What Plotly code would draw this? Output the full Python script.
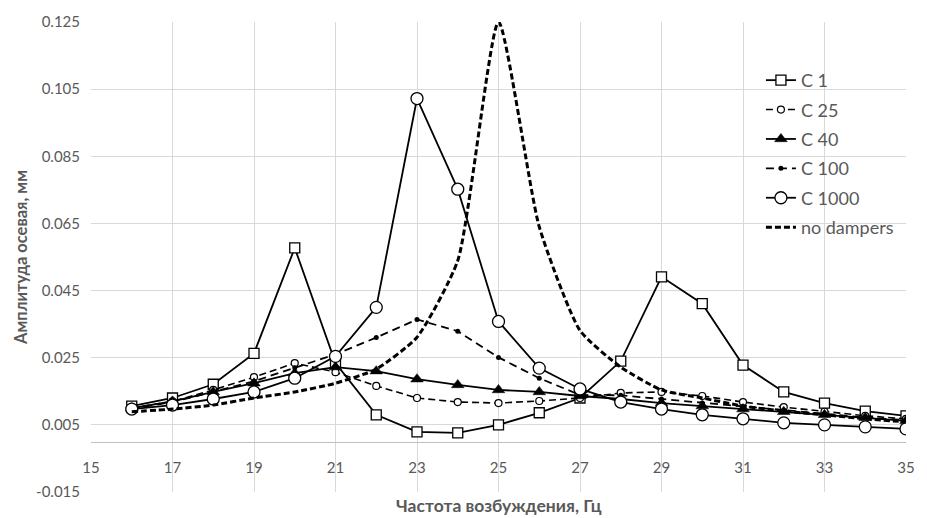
import plotly.graph_objects as go

freq = list(range(16, 36))

c1 = [0.0106, 0.0130, 0.0171, 0.0263, 0.0577, 0.0234, 0.0080, 0.0029, 0.0026, 0.0050,
      0.0086, 0.0130, 0.0240, 0.0491, 0.0411, 0.0228, 0.0148, 0.0115, 0.0091, 0.0077]
c25 = [0.0100, 0.0120, 0.0154, 0.0192, 0.0234, 0.0207, 0.0166, 0.0130, 0.0118, 0.0115,
       0.0121, 0.0130, 0.0145, 0.0148, 0.0136, 0.0118, 0.0103, 0.0089, 0.0077, 0.0068]
c40 = [0.0100, 0.0120, 0.0148, 0.0174, 0.0204, 0.0222, 0.0210, 0.0186, 0.0169, 0.0154,
       0.0148, 0.0136, 0.0127, 0.0115, 0.0106, 0.0097, 0.0089, 0.0080, 0.0071, 0.0062]
c100 = [0.0098, 0.0118, 0.0148, 0.0180, 0.0220, 0.0260, 0.0310, 0.0364, 0.0329, 0.0251,
        0.0189, 0.0139, 0.0138, 0.0127, 0.0115, 0.0104, 0.0093, 0.0082, 0.0072, 0.0064]
c1000 = [0.0097, 0.0109, 0.0127, 0.0148, 0.0189, 0.0254, 0.0400, 0.1022, 0.0752, 0.0358,
         0.0219, 0.0157, 0.0118, 0.0097, 0.0080, 0.0068, 0.0056, 0.0050, 0.0044, 0.0038]
no_dampers = [0.0089, 0.0097, 0.0109, 0.0130, 0.0148, 0.0174, 0.0216, 0.0311, 0.0539, 0.1250,
              0.0640, 0.0331, 0.0222, 0.0154, 0.0130, 0.0106, 0.0091, 0.0080, 0.0068, 0.0059]

x_ticks = list(range(15, 36, 2))
y_ticks = [-0.015, 0.005, 0.025, 0.045, 0.065, 0.085, 0.105, 0.125]

FONT = "Lato"
GREY = "#595959"

fig = go.Figure()

fig.add_trace(go.Scatter(x=freq, y=c1, name="C 1", mode="lines+markers", legendgroup="g1",
                         line=dict(color="black", width=1.8),
                         marker=dict(symbol="square", size=10, color="white",
                                     line=dict(color="black", width=1.3))))
fig.add_trace(go.Scatter(x=freq, y=c25, name="C 25", mode="lines+markers", legendgroup="g2",
                         line=dict(color="black", width=1.6, dash="7px,4px"),
                         marker=dict(symbol="circle", size=7, color="white",
                                     line=dict(color="black", width=1.2))))
fig.add_trace(go.Scatter(x=freq, y=c40, name="C 40", mode="lines+markers", legendgroup="g3",
                         line=dict(color="black", width=1.8),
                         marker=dict(symbol="triangle-up", size=11, color="black",
                                     line=dict(color="black", width=0.5))))
fig.add_trace(go.Scatter(x=freq, y=c100, name="C 100", mode="lines+markers", legendgroup="g4",
                         line=dict(color="black", width=1.8, dash="8px,5px"),
                         marker=dict(symbol="circle", size=5, color="black")))
fig.add_trace(go.Scatter(x=freq, y=c1000, name="C 1000", mode="lines+markers", legendgroup="g5",
                         line=dict(color="black", width=1.8),
                         marker=dict(symbol="circle", size=12, color="white",
                                     line=dict(color="black", width=1.3))))
fig.add_trace(go.Scatter(x=freq, y=no_dampers, name="no dampers", mode="lines", legendgroup="g6",
                         line=dict(color="black", width=3, dash="6px,3px", shape="spline",
                                   smoothing=0.55)))

fig.update_layout(
    width=927, height=518,
    margin=dict(l=91, r=12, t=19, b=26),
    paper_bgcolor="white", plot_bgcolor="white",
    font=dict(family=FONT, color=GREY, size=15),
    showlegend=True,
    legend=dict(x=0.822, y=0.915, xanchor="left", yanchor="top",
                font=dict(family=FONT, size=18, color=GREY),
                tracegroupgap=3,
                bgcolor="rgba(255,255,255,0)", borderwidth=0),
    xaxis=dict(range=[15, 35], tickvals=x_ticks, ticktext=[str(v) for v in x_ticks],
               showgrid=True, gridcolor="#d9d9d9", gridwidth=1,
               zeroline=False, showline=True, linecolor="#bfbfbf", linewidth=1,
               anchor="free", position=0.015 / 0.14, ticks="", ticklabelstandoff=12,
               tickfont=dict(family=FONT, size=15, color=GREY)),
    yaxis=dict(range=[-0.015, 0.125], tickvals=y_ticks,
               ticktext=[f"{v:.3f}" for v in y_ticks],
               showgrid=True, gridcolor="#d9d9d9", gridwidth=1, zeroline=False,
               showline=False, ticks="", ticklabelstandoff=10,
               tickfont=dict(family=FONT, size=15, color=GREY),
               title=dict(text="Амплитуда осевая, мм",
                          font=dict(family=FONT, size=16.5, color=GREY, weight="bold"),
                          standoff=4)),
)

fig.add_annotation(text="<b>Частота возбуждения, Гц</b>", xref="paper", yref="paper",
                   x=0.5, y=0, yanchor="middle", yshift=-13, showarrow=False,
                   font=dict(family=FONT, size=17.5, color=GREY))

fig.write_html("out.html")
